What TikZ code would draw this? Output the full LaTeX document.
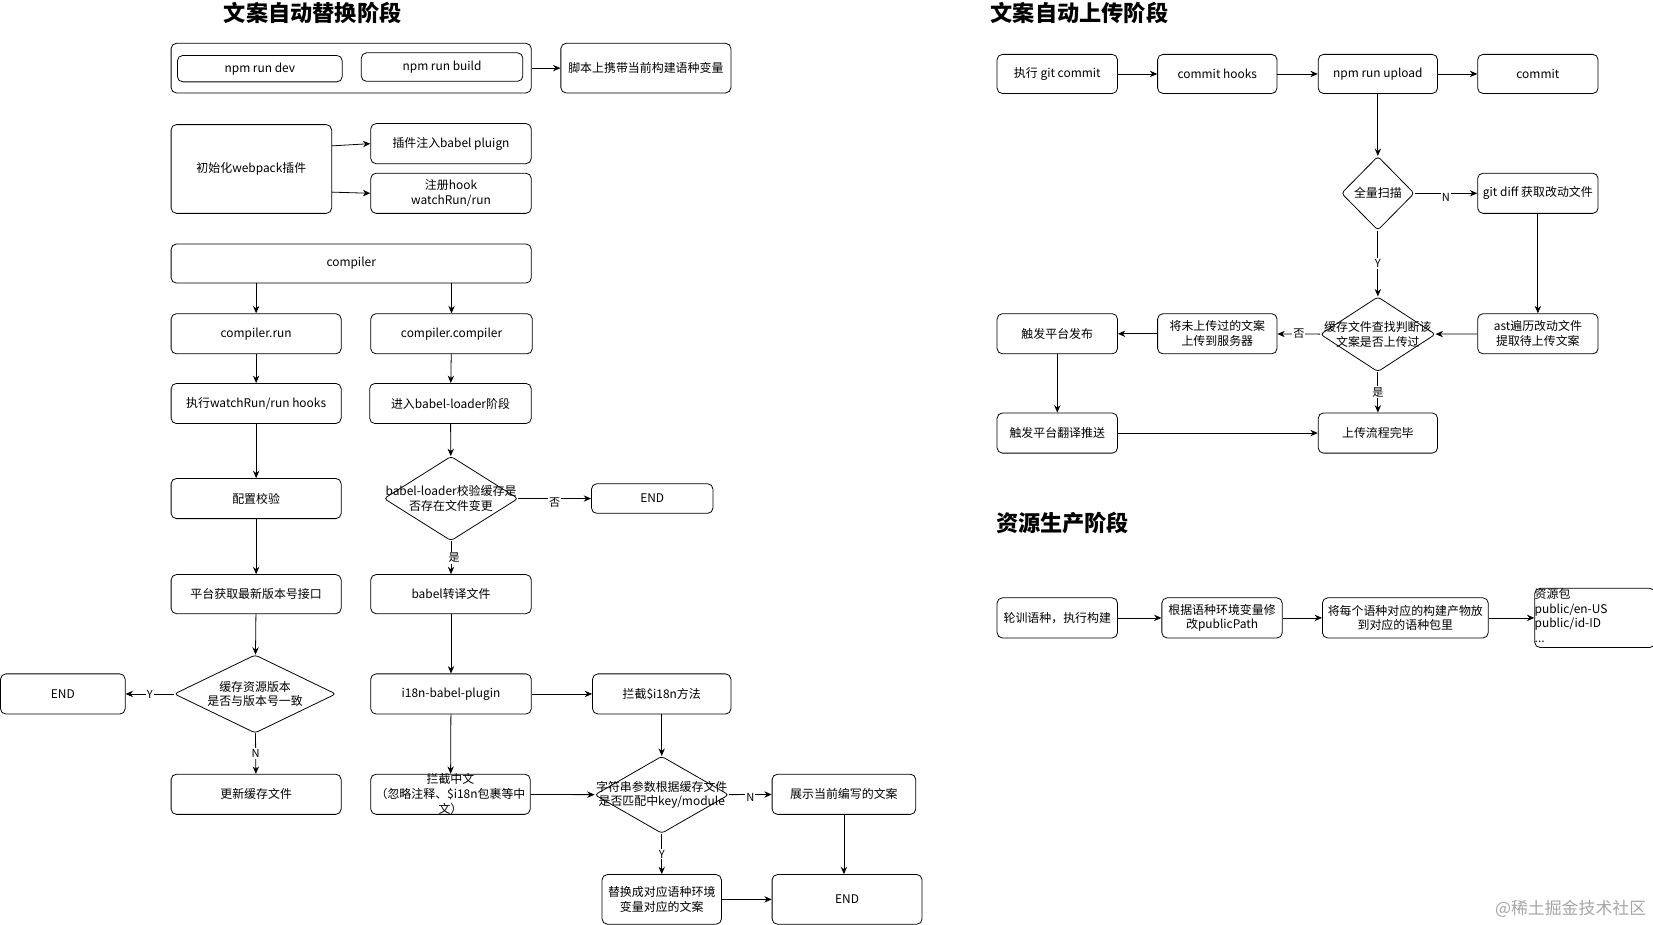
\documentclass[tikz,border=0pt]{standalone}
\usepackage{fontspec}
\setmainfont{Noto Sans CJK SC}
\usetikzlibrary{shapes.geometric,arrows.meta}

\newcommand\boxfont{\fontsize{11.3}{14}\selectfont}
\newcommand\tagfont{\fontsize{10.5}{12}\selectfont}
\newcommand\ttlfont{\fontsize{21}{24}\selectfont\bfseries}

\begin{document}
\begin{tikzpicture}[x=1pt,y=-1pt,->,>={Stealth[length=7pt,width=6pt]},line width=0.75pt]
              \tikzstyle{box}=[draw,rounded corners=5pt,align=center,font=\boxfont,inner sep=2pt];
              \tikzstyle{dia}=[draw,shape=diamond,rounded corners=3pt,inner sep=0pt];
              \tikzstyle{lbl}=[align=center,font=\boxfont,inner sep=0pt];
              \tikzstyle{tag}=[fill=white,font=\tagfont,inner sep=1pt];
              \tikzstyle{ttl}=[font=\ttlfont];
                \useasboundingbox (0,0) rectangle (1565,875);

                % 文案自动替换阶段
                \path (296,12)  node[ttl] (t1) {文案自动替换阶段};
                \path (332.5,64.5) node[box,minimum width=341pt,minimum height=47pt] (npm) {};
                \path (246,65)  node[box,minimum width=156pt,minimum height=25pt] (dev) {npm run dev};
                \path (418.5,63.5) node[box,minimum width=153pt,minimum height=27pt] (build) {npm run build};
                \path (611.5,64.5) node[box,minimum width=161pt,minimum height=47pt] (env) {脚本上携带当前构建语种变量};

                \path (238,160) node[box,minimum width=152pt,minimum height=84pt] (init) {初始化webpack插件};
                \path (427,136) node[box,minimum width=152pt,minimum height=38pt] (inject) {插件注入babel pluign};
                \path (427,183) node[box,minimum width=152pt,minimum height=38pt] (hook) {注册hook\\watchRun/run};

                \path (332.5,249.5) node[box,minimum width=341pt,minimum height=37pt] (comp) {compiler};
                \path (242.5,316) node[box,minimum width=161pt,minimum height=38pt] (crun) {compiler.run};
                \path (427.5,316) node[box,minimum width=153pt,minimum height=38pt] (ccomp) {compiler.compiler};
                \path (242.5,382) node[box,minimum width=161pt,minimum height=38pt] (hooks) {执行watchRun/run hooks};
                \path (426.5,382) node[box,minimum width=153pt,minimum height=38pt] (loader) {进入babel-loader阶段};
                \path (242.5,472) node[box,minimum width=161pt,minimum height=38pt] (conf) {配置校验};
                \path (427,472) node[dia,minimum width=127pt,minimum height=80pt,
                    label={[lbl]center:babel-loader校验缓存是\\否存在文件变更}] (check) {};
                \path (617.5,472) node[box,minimum width=115pt,minimum height=28pt] (end1) {END};
                \path (427,562.5) node[box,minimum width=152pt,minimum height=37pt] (babel) {babel转译文件};
                \path (242.5,562.5) node[box,minimum width=161pt,minimum height=37pt] (fetch) {平台获取最新版本号接口};
                \path (241.5,657) node[dia,minimum width=153pt,minimum height=74pt,
                    label={[lbl]center:缓存资源版本\\是否与版本号一致}] (ver) {};
                \path (59.5,657) node[box,minimum width=118pt,minimum height=38pt] (end2) {END};
                \path (242.5,752) node[box,minimum width=161pt,minimum height=38pt] (upd) {更新缓存文件};
                \path (427,657) node[box,minimum width=152pt,minimum height=38pt] (plugin) {i18n-babel-plugin};
                \path (626.5,657) node[box,minimum width=131pt,minimum height=38pt] (method) {拦截\$i18n方法};
                \path (426.5,752) node[box,minimum width=151pt,minimum height=38pt,
                    label={[lbl]center:拦截中文\\（忽略注释、\$i18n包裹等中\\文）}] (zh) {};
                \path (626.5,752.5) node[dia,minimum width=127pt,minimum height=73pt,
                    label={[lbl]center:字符串参数根据缓存文件\\是否匹配中key/module}] (match) {};
                \path (799,752) node[box,minimum width=136pt,minimum height=38pt] (show) {展示当前编写的文案};
                \path (626.5,851.5) node[box,minimum width=113pt,minimum height=47pt] (repl) {替换成对应语种环境\\变量对应的文案};
                \path (802,851.5) node[box,minimum width=142pt,minimum height=47pt] (end3) {END};

                \path[draw] (npm) -- (env);
                \path[draw] (init.16) -- (inject.west);
                \path[draw] (init.-16) -- (hook.west);
                \path[draw] (crun.north |- comp.south) -- (crun.north);
                \path[draw] (ccomp.north |- comp.south) -- (ccomp.north);
                \path[draw] (crun) -- (hooks);
                \path[draw] (hooks) -- (conf);
                \path[draw] (conf) -- (fetch);
                \path[draw] (fetch) -- (ver);
                \path[draw] (ver) -- node[tag] {Y} (end2);
                \path[draw] (ver) -- node[tag] {N} (upd);
                \path[draw] (ccomp) -- (loader);
                \path[draw] (loader) -- (check);
                \path[draw] (check) -- node[tag,yshift=-4pt] {否} (end1);
                \path[draw] (check) -- node[tag,xshift=3pt] {是} (babel);
                \path[draw] (babel) -- (plugin);
                \path[draw] (plugin) -- (method);
                \path[draw] (plugin) -- (zh);
                \path[draw] (method) -- (match);
                \path[draw] (zh) -- (match);
                \path[draw] (match) -- node[tag,yshift=-3pt] {N} (show);
                \path[draw] (match) -- node[tag] {Y} (repl);
                \path[draw] (repl) -- (end3);
                \path[draw] (show.south) -- (end3.north -| show.south);

                % 文案自动上传阶段
                \path (1022,12) node[ttl] (t2) {文案自动上传阶段};
                \path (1001,70) node[box,minimum width=114pt,minimum height=37pt] (gitc) {执行 git commit};
                \path (1152.5,70) node[box,minimum width=113pt,minimum height=37pt] (chooks) {commit hooks};
                \path (1304.5,70) node[box,minimum width=113pt,minimum height=37pt] (upload) {npm run upload};
                \path (1456,70) node[box,minimum width=114pt,minimum height=37pt] (commit) {commit};
                \path (1304.5,183) node[dia,minimum width=69pt,minimum height=70pt,
                    label={[lbl]center:全量扫描}] (full) {};
                \path (1456,183) node[box,minimum width=114pt,minimum height=38pt] (diff) {git diff 获取改动文件};
                \path (1456,316) node[box,minimum width=114pt,minimum height=38pt] (ast) {ast遍历改动文件\\提取待上传文案};
                \path (1304.5,316.5) node[dia,minimum width=109pt,minimum height=71pt,
                    label={[lbl]center:缓存文件查找判断该\\文案是否上传过}] (cache) {};
                \path (1152.5,316) node[box,minimum width=113pt,minimum height=38pt] (send) {将未上传过的文案\\上传到服务器};
                \path (1001,316) node[box,minimum width=114pt,minimum height=38pt] (pub) {触发平台发布};
                \path (1001,410) node[box,minimum width=114pt,minimum height=38pt] (push) {触发平台翻译推送};
                \path (1304.5,410) node[box,minimum width=113pt,minimum height=38pt] (done) {上传流程完毕};

                \path[draw] (gitc) -- (chooks);
                \path[draw] (chooks) -- (upload);
                \path[draw] (upload) -- (commit);
                \path[draw] (upload) -- (full);
                \path[draw] (full) -- node[tag,yshift=-4pt] {N} (diff);
                \path[draw] (diff) -- (ast);
                \path[draw] (full) -- node[tag] {Y} (cache);
                \path[draw] (ast) -- (cache);
                \path[draw] (cache) -- node[tag] {否} (send);
                \path[draw] (send) -- (pub);
                \path[draw] (pub) -- (push);
                \path[draw] (push) -- (done);
                \path[draw] (cache) -- node[tag] {是} (done);

                % 资源生产阶段
                \path (1006,495) node[ttl] (t3) {资源生产阶段};
                \path (1001,585) node[box,minimum width=114pt,minimum height=38pt] (loop) {轮训语种，执行构建};
                \path (1157,585) node[box,minimum width=114pt,minimum height=38pt] (path) {根据语种环境变量修\\改publicPath};
                \path (1330.5,585) node[box,minimum width=157pt,minimum height=38pt] (put) {将每个语种对应的构建产物放\\到对应的语种包里};
                \path (1510,585) node[box,minimum width=114pt,minimum height=56pt,
                    label={[lbl,align=left,anchor=north west]north west:资源包\\public/en-US\\public/id-ID\\...}] (pkg) {};

                \path[draw] (loop) -- (path);
                \path[draw] (path) -- (put);
                \path[draw] (put) -- (pkg);

                \path (1487,860) node[font=\fontsize{16}{18}\selectfont,text=black!35] (mark) {@稀土掘金技术社区};
            \end{tikzpicture}
\end{document}
